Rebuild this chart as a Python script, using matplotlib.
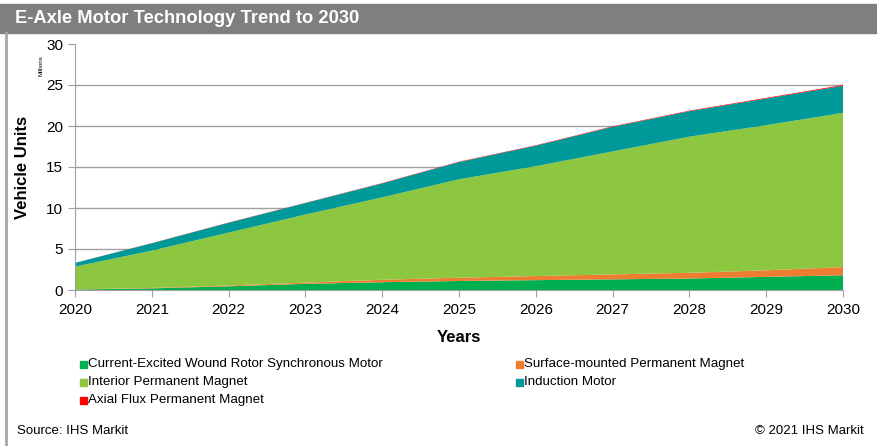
import matplotlib
matplotlib.use("Agg")
import matplotlib.pyplot as plt
from matplotlib.patches import Rectangle
from matplotlib.lines import Line2D

plt.rcParams['font.family'] = ['Liberation Sans', 'DejaVu Sans']

years = [2020, 2021, 2022, 2023, 2024, 2025, 2026, 2027, 2028, 2029, 2030]

# millions of vehicle units
wound_rotor = [0.05, 0.2, 0.45, 0.75, 0.95, 1.1, 1.2, 1.3, 1.4, 1.6, 1.8]
surface_pm = [0.02, 0.05, 0.1, 0.15, 0.3, 0.4, 0.5, 0.6, 0.7, 0.8, 1.0]
interior_pm = [2.78, 4.55, 6.45, 8.3, 10.05, 12.0, 13.4, 15.0, 16.6, 17.7, 18.8]
induction = [0.45, 0.9, 1.2, 1.4, 1.7, 2.1, 2.5, 3.0, 3.1, 3.25, 3.3]
axial_flux = [0.01, 0.02, 0.03, 0.03, 0.04, 0.05, 0.05, 0.06, 0.07, 0.08, 0.1]

labels = ['Current-Excited Wound Rotor Synchronous Motor',
          'Surface-mounted Permanent Magnet',
          'Interior Permanent Magnet',
          'Induction Motor',
          'Axial Flux Permanent Magnet']
colors = ['#00b050', '#ed7d31', '#8dc63f', '#009999', '#ff0000']

W, H = 877, 446
fig = plt.figure(figsize=(W / 100, H / 100), dpi=100)

# title bar and left frame line
fig.patches.append(Rectangle((0, 1 - 33 / H), 1, 29 / H, transform=fig.transFigure,
                             color='#7f807e', zorder=0))
fig.lines.append(Line2D([6 / W, 6 / W], [0, 1 - 33 / H], transform=fig.transFigure,
                        color='#a6a6a6', lw=2))
fig.text(15 / W, 1 - 18.5 / H, 'E-Axle Motor Technology Trend to 2030', color='white',
         fontsize=13.2, fontweight='bold', va='center', ha='left')

ax = fig.add_axes([75 / W, 1 - 290 / H, 768 / W, 246 / H])
ax.stackplot(years, wound_rotor, surface_pm, interior_pm, induction, axial_flux,
             colors=colors, labels=labels, lw=0)

ax.set_xlim(2020, 2030)
ax.set_ylim(0, 30)
ax.set_xticks(years)
ax.set_yticks(range(0, 31, 5))
for y in range(5, 30, 5):
    ax.axhline(y, color='#a0a0a0', lw=1, zorder=0)
ax.set_axisbelow(True)

for s in ['top', 'right']:
    ax.spines[s].set_visible(False)
for s in ['left', 'bottom']:
    ax.spines[s].set_color('#a0a0a0')
ax.tick_params(colors='#a0a0a0', labelcolor='black', labelsize=11, length=5)
ax.tick_params(axis='x', pad=4)

ax.set_xlabel('Years', fontsize=12, fontweight='bold', labelpad=10)
ax.set_ylabel('Vehicle Units', fontsize=12, fontweight='bold', labelpad=12)
fig.text(41 / W, 1 - 66 / H, 'Millions', fontsize=4.5, rotation=90,
         ha='center', va='center')

# legend in two columns, row-major
pos = [(80, 364), (516, 364), (80, 382), (516, 382), (80, 400)]
for (px, py), c, t in zip(pos, colors, labels):
    fig.patches.append(Rectangle((px / W, 1 - (py + 4) / H), 7 / W, 7 / H,
                                 transform=fig.transFigure, color=c))
    fig.text((px + 8) / W, 1 - py / H, t, fontsize=9.6,
             va='center', ha='left')

fig.text(17 / W, 1 - 431 / H, 'Source: IHS Markit', fontsize=9.5,
         va='center', ha='left')
fig.text(864 / W, 1 - 431 / H, '\u00a9 2021 IHS Markit', fontsize=9.5,
         va='center', ha='right')

fig.savefig('out.png', dpi=100)
